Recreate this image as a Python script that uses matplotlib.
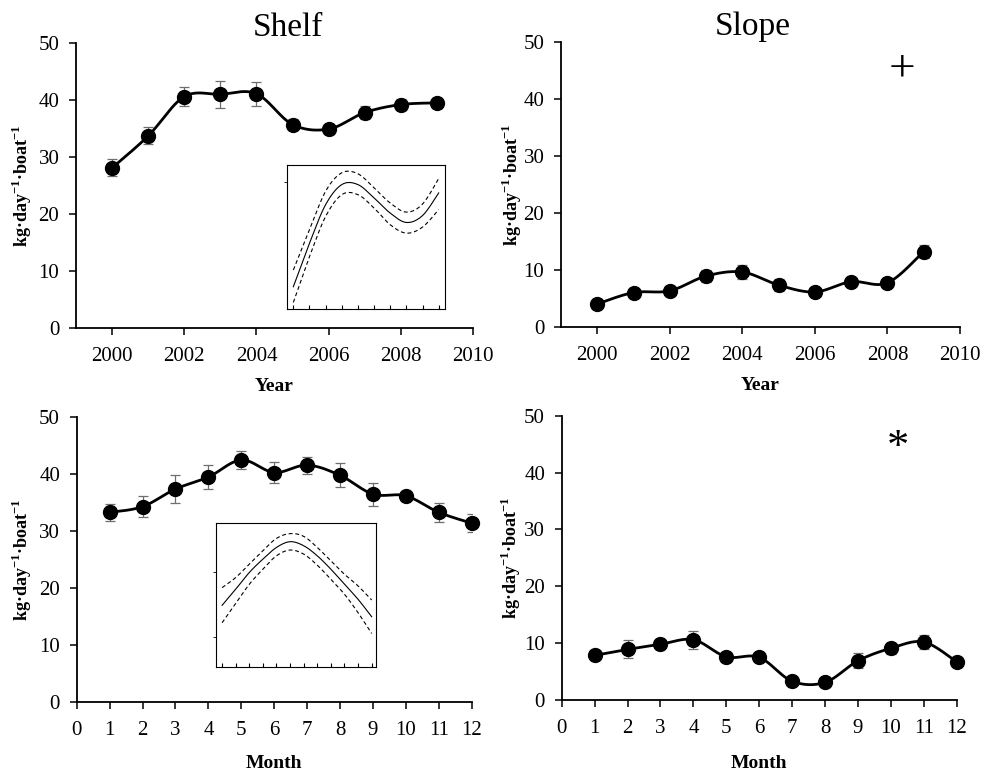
import matplotlib
matplotlib.use('Agg')
import matplotlib.pyplot as plt
import numpy as np

plt.rcParams['font.family'] = ['Liberation Serif', 'DejaVu Serif']
plt.rcParams['mathtext.fontset'] = 'custom'
plt.rcParams['mathtext.rm'] = 'Liberation Serif'
plt.rcParams['mathtext.bf'] = 'Liberation Serif:bold'

# ---------------- data ----------------
years = [2000, 2001, 2002, 2003, 2004, 2005, 2006, 2007, 2008, 2009]
shelf_year = [28.1, 33.7, 40.6, 41.0, 41.1, 35.7, 34.9, 37.8, 39.2, 39.5]
shelf_year_err = [1.5, 1.5, 1.6, 2.4, 2.1, 1.0, 0.8, 1.2, 1.0, 0.9]
slope_year = [4.0, 6.0, 6.3, 8.9, 9.6, 7.3, 6.1, 7.9, 7.7, 13.2]
slope_year_err = [0.5, 0.5, 0.5, 1.0, 1.3, 1.1, 0.6, 0.6, 0.8, 1.2]

months = [1, 2, 3, 4, 5, 6, 7, 8, 9, 10, 11, 12]
shelf_month = [33.3, 34.3, 37.4, 39.5, 42.5, 40.3, 41.6, 39.8, 36.5, 36.2, 33.3, 31.4]
shelf_month_err = [1.5, 1.9, 2.4, 2.1, 1.5, 1.9, 1.5, 2.1, 2.0, 0.8, 1.7, 1.6]
slope_month = [7.85, 8.9, 9.8, 10.6, 7.6, 7.5, 3.3, 3.1, 6.9, 9.1, 10.2, 6.7]
slope_month_err = [0.5, 1.6, 0.9, 1.6, 0.6, 0.5, 0.6, 0.6, 1.3, 1.0, 1.3, 0.6]

# inset (GAM-like smooth) curves, relative units 0..1
inset_year_fit = [0.156, 0.458, 0.726, 0.865, 0.865, 0.772, 0.667, 0.602, 0.650, 0.807]
inset_year_hi = [0.272, 0.551, 0.819, 0.947, 0.940, 0.842, 0.737, 0.674, 0.730, 0.907]
inset_year_lo = [0.047, 0.365, 0.644, 0.795, 0.795, 0.702, 0.586, 0.528, 0.570, 0.691]

inset_month_fit = [0.428, 0.540, 0.656, 0.749, 0.830, 0.870, 0.842, 0.772, 0.679, 0.574, 0.470, 0.349]
inset_month_hi = [0.551, 0.621, 0.714, 0.807, 0.893, 0.926, 0.907, 0.830, 0.737, 0.644, 0.563, 0.465]
inset_month_lo = [0.307, 0.442, 0.574, 0.679, 0.772, 0.812, 0.784, 0.707, 0.609, 0.505, 0.377, 0.233]

ylabel = r'kg·day$^{\mathbf{-1}}$·boat$^{\mathbf{-1}}$'


def smooth(x, y, n=24):
    """Catmull-Rom smoothed line through the points (like a spreadsheet 'smoothed line')."""
    x = np.asarray(x, float)
    y = np.asarray(y, float)
    P = np.column_stack([x, y])
    P = np.vstack([P[0], P, P[-1]])
    out = []
    t = np.linspace(0, 1, n)[:, None]
    for i in range(1, len(P) - 2):
        p0, p1, p2, p3 = P[i - 1], P[i], P[i + 1], P[i + 2]
        seg = 0.5 * (2 * p1 + (-p0 + p2) * t + (2 * p0 - 5 * p1 + 4 * p2 - p3) * t ** 2
                     + (-p0 + 3 * p1 - 3 * p2 + p3) * t ** 3)
        out.append(seg if i == 1 else seg[1:])
    out = np.vstack(out)
    return out[:, 0], out[:, 1]


fig = plt.figure(figsize=(9.81, 7.71), dpi=100)

positions = {
    'tl': [0.0775, 0.5746, 0.4047, 0.3696],
    'tr': [0.5719, 0.5763, 0.4067, 0.3690],
    'bl': [0.0782, 0.0895, 0.4027, 0.3693],
    'br': [0.5726, 0.0921, 0.4027, 0.3687],
}


def main_panel(key, x, y, err, xlim, xticks, xlabel, ylab_x, xlab_y):
    ax = fig.add_axes(positions[key])
    ax.errorbar(x, y, yerr=err, fmt='none', ecolor='#6e6e6e', elinewidth=0.9,
                capsize=3.5, capthick=0.9, zorder=2)
    sx, sy = smooth(x, y)
    ax.plot(sx, sy, color='black', lw=2.0, zorder=3, solid_capstyle='round', clip_on=False)
    ax.plot(x, y, 'o', color='black', ms=10, zorder=4, clip_on=False)
    ax.set_xlim(*xlim)
    ax.set_ylim(0, 50)
    ax.set_xticks(xticks)
    ax.set_yticks([0, 10, 20, 30, 40, 50])
    for s in ['top', 'right']:
        ax.spines[s].set_visible(False)
    for s in ['left', 'bottom']:
        ax.spines[s].set_linewidth(1.3)
    ax.tick_params(direction='out', length=5, width=1.1, labelsize=15)
    ax.tick_params(axis='x', pad=9)
    ax.tick_params(axis='y', pad=7)
    ax.set_ylabel(ylabel, fontsize=13, fontweight='bold')
    ax.yaxis.set_label_coords(ylab_x, 0.5)
    ax.set_xlabel(xlabel, fontsize=14, fontweight='bold')
    ax.xaxis.set_label_coords(0.5, xlab_y)
    return ax


ax1 = main_panel('tl', years, shelf_year, shelf_year_err, (1999, 2010), range(2000, 2011, 2), 'Year',
                 -0.106, -0.176)
ax2 = main_panel('tr', years, slope_year, slope_year_err, (1999, 2010), range(2000, 2011, 2), 'Year',
                 -0.094, -0.176)
ax3 = main_panel('bl', months, shelf_month, shelf_month_err, (0, 12), range(0, 13), 'Month',
                 -0.109, -0.186)
ax4 = main_panel('br', months, slope_month, slope_month_err, (0, 12), range(0, 13), 'Month',
                 -0.097, -0.192)

ax1.set_title('Shelf', fontsize=24, x=0.534, pad=2)
ax2.set_title('Slope', fontsize=24, x=0.481, pad=2)

ax2.text(2008.4, 45.3, '+', fontsize=34, ha='center', va='center')
ax4.text(10.22, 44.4, '*', fontsize=32, ha='center', va='center')


def inset(rect, x, fit, hi, lo, xlim, yticks):
    ia = fig.add_axes(rect)
    sx, sy = smooth(x, fit)
    ia.plot(sx, sy, color='black', lw=0.8)
    for band in (hi, lo):
        bx, by = smooth(x, band)
        ia.plot(bx, by, color='black', lw=0.8, ls=(0, (3.5, 2.5)))
    ia.set_xlim(*xlim)
    ia.set_ylim(0, 1)
    ia.set_xticks(x)
    ia.set_xticklabels([])
    ia.set_yticks(yticks)
    ia.set_yticklabels([])
    ia.tick_params(axis='x', direction='in', length=3, width=0.8)
    ia.tick_params(axis='y', direction='out', length=2, width=0.6)
    for s in ia.spines.values():
        s.set_linewidth(0.8)
    return ia


inset([0.2926, 0.5990, 0.1610, 0.1868], years, inset_year_fit, inset_year_hi, inset_year_lo,
      (1999.61, 2009.39), [0.884])
inset([0.2202, 0.1349, 0.1631, 0.1868], months, inset_month_fit, inset_month_hi, inset_month_lo,
      (0.554, 12.32), [0.207, 0.66])

fig.savefig('out.png', dpi=100)
